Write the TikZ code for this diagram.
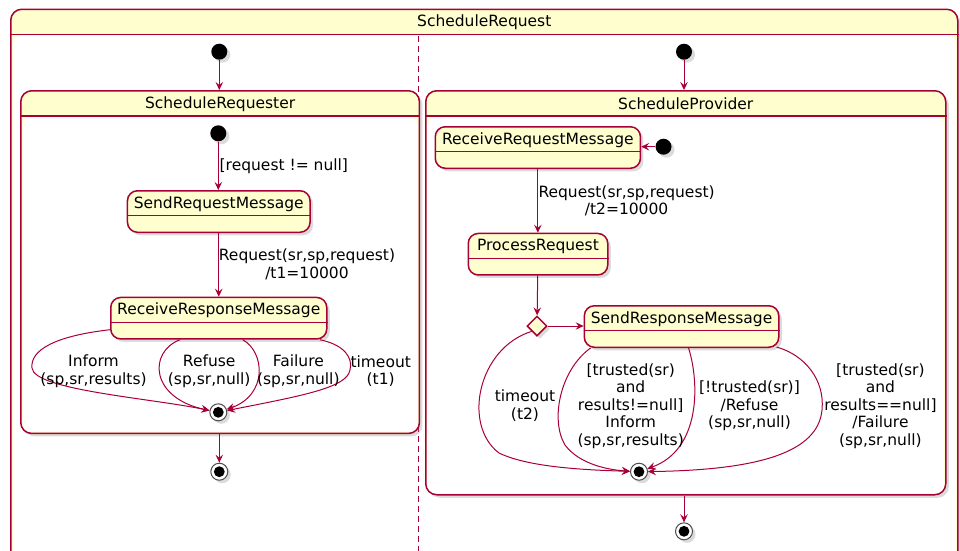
\documentclass[tikz,border=0pt]{standalone}
\usepackage{fontspec}
\setmainfont{DejaVu Sans}
\usetikzlibrary{arrows.meta,shadows,shapes.geometric}
\definecolor{umlborder}{HTML}{A80036}
\definecolor{umlfill}{HTML}{FEFECE}

\tikzset{
  lbl/.style={font=\fontsize{15.5}{17.5}\selectfont, align=center, inner sep=0pt},
  softshadow/.style={drop shadow={shadow xshift=3pt, shadow yshift=-3pt, opacity=0.28, fill=gray}},
  stateshape/.style={draw=umlborder, fill=umlfill, line width=1.5pt, rounded corners=10pt,
    inner sep=0pt, anchor=north west, softshadow},
  compbox/.style={stateshape, rounded corners=11pt},
  sepline/.style={draw=umlborder, line width=1.3pt},
  edge/.style={draw=umlborder, line width=1pt,
    -{Stealth[length=8pt, width=7.5pt, inset=3pt]}},
  initstate/.style={circle, fill=black, minimum size=16pt, inner sep=0pt, softshadow},
  finalstate/.style={circle, draw=black!70, fill=white, line width=1pt, minimum size=17pt,
    inner sep=0pt, softshadow,
    path picture={\fill[black] (path picture bounding box.center) circle (5.4pt);}},
  choice/.style={diamond, draw=umlborder, fill=umlfill, line width=1.5pt, inner sep=0pt,
    minimum width=20pt, minimum height=20pt, softshadow},
}

% simple state: name, left, top, width, text
\newcommand\umlstate[5]{%
  \node[stateshape, minimum width=#4pt, minimum height=41.5pt] (#1) at (#2,#3) {};
  \node[lbl] (#1-name) at ([yshift=-14pt]#1.north) {#5};
  \draw[sepline] ([yshift=-25.5pt]#1.north west) -- ([yshift=-25.5pt]#1.north east);
}

% composite state: name, left, top, width, height, title
\newcommand\umlcomposite[6]{%
  \node[compbox, minimum width=#4pt, minimum height=#5pt] (#1) at (#2,#3) {};
  \fill[white, rounded corners=8pt] ([xshift=2.5pt, yshift=-27.5pt]#1.north west)
    rectangle ([xshift=-2.5pt, yshift=2.5pt]#1.south east);
  \draw[sepline] ([yshift=-26pt]#1.north west) -- ([yshift=-26pt]#1.north east);
  \node[lbl] (#1-name) at ([yshift=-14pt]#1.north) {#6};
}

\begin{document}
\begin{tikzpicture}[x=1pt, y=-1pt]
\useasboundingbox (0,0) rectangle (960,550);
\clip (0,0) rectangle (960,550);

% ---------- outer composite ----------
\umlcomposite{top}{10}{8.5}{947}{560}{ScheduleRequest}
\coordinate (divtop) at (418.7,36);
\coordinate (divbot) at (418.7,552);
\draw[umlborder, line width=1.5pt, dash pattern=on 6pt off 4pt] (divtop) -- (divbot);

% ---------- requester region ----------
\node[initstate] (i1) at (219.3,51.7) {};
\umlcomposite{req}{20}{90}{398.7}{342.7}{ScheduleRequester}
\draw[edge] (i1) -- (i1 |- req.north);

\node[initstate] (i2) at (218.3,133.3) {};
\umlstate{srm}{126.7}{190}{182.6}{SendRequestMessage}
\umlstate{rrm}{110}{296.7}{216}{ReceiveResponseMessage}
\node[finalstate] (f1) at (218.3,412.3) {};

\draw[edge] (i2) -- (i2 |- srm.north);
\node[lbl, anchor=west] (l1) at (219.5,166) {[request != null]};
\draw[edge] (srm) -- (srm |- rrm.north);
\node[lbl] (l2) at (307,264.3) {Request(sr,sp,request)\\/t1=10000};

\draw[edge] ([yshift=10pt]rrm.south west)
  .. controls (55,336) and (30,350) .. (32,368)
  .. controls (34,390) and (150,398) .. (f1);
\draw[edge] ([xshift=70pt]rrm.south west)
  .. controls (148,352) and (150,398) .. (f1);
\draw[edge] ([xshift=132.7pt]rrm.south west)
  .. controls (265,352) and (268,395) .. (f1);
\draw[edge] ([xshift=-7.7pt]rrm.south east)
  .. controls (345,345) and (353,358) .. (350,370)
  .. controls (347,388) and (300,396) .. (f1);

\node[lbl] (l3) at (93.5,371.2) {Inform\\(sp,sr,results)};
\node[lbl] (l4) at (209.2,371.2) {Refuse\\(sp,sr,null)};
\node[lbl] (l5) at (298.3,371.2) {Failure\\(sp,sr,null)};
\node[lbl] (l6) at (380.7,371.2) {timeout\\(t1)};

\node[finalstate] (f3) at (219.3,471.7) {};
\draw[edge] (f3 |- req.south) -- (f3);

% ---------- provider region ----------
\node[initstate] (i3) at (684,51.7) {};
\umlcomposite{prov}{425}{90}{520}{404}{ScheduleProvider}
\draw[edge] (i3) -- (i3 |- prov.north);

\umlstate{rqm}{434.5}{126}{205.2}{ReceiveRequestMessage}
\node[initstate] (i4) at (663.5,146.7) {};
\draw[edge] (i4) -- (rqm.east |- i4);

\umlstate{prq}{467.5}{232.7}{139.5}{ProcessRequest}
\draw[edge] (rqm) -- (rqm |- prq.north);
\node[lbl] (l7) at (626.6,200.8) {Request(sr,sp,request)\\/t2=10000};

\node[choice] (dia) at (537,326) {};
\draw[edge] (prq) -- (dia);
\umlstate{srs}{583.6}{305}{194.4}{SendResponseMessage}
\draw[edge] (dia) -- (srs.west |- dia);

\node[finalstate] (f2) at (639,471.7) {};

\draw[edge] (dia.south west)
  .. controls (478,348) and (462,425) .. (499,453)
  .. controls (530,468) and (590,470) .. (f2);
\draw[edge] ([xshift=7pt]srs.south west)
  .. controls (560,370) and (550,420) .. (565,445)
  .. controls (580,465) and (610,470) .. (f2);
\draw[edge] ([xshift=105pt]srs.south west)
  .. controls (700,385) and (700,450) .. (f2);
\draw[edge] ([xshift=-3pt, yshift=1pt]srs.south east)
  .. controls (805,355) and (825,380) .. (822,410)
  .. controls (818,452) and (760,470) .. (f2);

\node[lbl] (l8) at (525,405.8) {timeout\\(t2)};
\node[lbl] (l9) at (630.7,405.8) {[trusted(sr)\\and\\results!=null]\\Inform\\(sp,sr,results)};
\node[lbl] (l10) at (749.5,405.8) {[!trusted(sr)]\\/Refuse\\(sp,sr,null)};
\node[lbl] (l11) at (880.4,405.8) {[trusted(sr)\\and\\results==null]\\/Failure\\(sp,sr,null)};

\node[finalstate] (f4) at (684,531.3) {};
\draw[edge] (f4 |- prov.south) -- (f4);
\end{tikzpicture}
\end{document}
